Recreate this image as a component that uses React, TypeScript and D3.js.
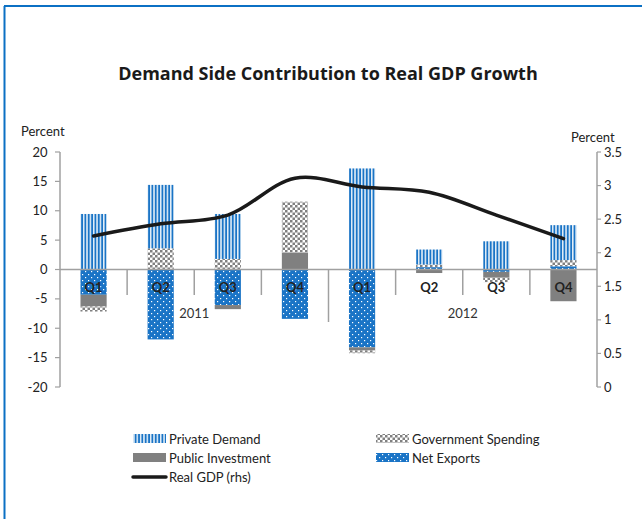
import React from "react";
import * as d3 from "d3";

const quarters = ["Q1", "Q2", "Q3", "Q4", "Q1", "Q2", "Q3", "Q4"];
const years = ["2011", "2012"];
const privateDemand = [9.45, 10.8, 7.65, 0, 17.2, 2.55, 4.8, 5.95];
const govSpending = [-0.85, 3.6, 1.8, 8.65, -0.45, 0.45, -0.75, 1.05];
const publicInvestment = [-2.0, 0, -0.7, 2.9, -0.55, -0.6, -1.0, -5.4];
const netExports = [-4.3, -11.9, -6.05, -8.4, -13.25, 0.4, -0.4, 0.55];
const realGDP = [2.25, 2.43, 2.56, 3.11, 2.98, 2.9, 2.56, 2.21];
const leftTicks = [-20, -15, -10, -5, 0, 5, 10, 15, 20];
const rightTicks = [0, 0.5, 1, 1.5, 2, 2.5, 3, 3.5];

const BLUE = "#1a74c6";
const GRAY = "#808080";
const FONT = "Lato, 'Open Sans', sans-serif";

export default function App() {
  const W = 642, H = 519;
  const x0 = 60, x1 = 597, yTop = 152, yBot = 387;
  const idx = quarters.map((_, i) => i);
  const x = d3.scaleBand<number>().domain(idx).range([x0, x1]).paddingInner(0.61).paddingOuter(0.305);
  const step = x.step();
  const yL = d3.scaleLinear().domain([-20, 20]).range([yBot, yTop]);
  const yR = d3.scaleLinear().domain([0, 3.5]).range([yBot, yTop]);

  const keys = ["ne", "pi", "gs", "pd"];
  const rows = idx.map((i) => ({
    i,
    ne: netExports[i],
    pi: publicInvestment[i],
    gs: govSpending[i],
    pd: privateDemand[i],
  }));
  const stack = d3.stack<any>().keys(keys).offset(d3.stackOffsetDiverging);
  const series = stack(rows);
  const fills: Record<string, string> = {
    ne: "url(#pNE)",
    pi: GRAY,
    gs: "url(#pGS)",
    pd: "url(#pPD)",
  };

  const cx = (i: number) => (x(i) as number) + x.bandwidth() / 2;
  const line = d3
    .line<number>()
    .x((_, i) => cx(i))
    .y((d) => yR(d))
    .curve(d3.curveCatmullRom.alpha(0.5));

  const zeroY = yL(0);
  const axisColor = "#a0a0a0";

  const legend = [
    { label: "Private Demand", key: "pd", x: 133, y: 439 },
    { label: "Government Spending", key: "gs", x: 376, y: 439 },
    { label: "Public Investment", key: "pi", x: 133, y: 458 },
    { label: "Net Exports", key: "ne", x: 376, y: 458 },
  ];

  return (
    <svg width={W} height={H} style={{ position: "absolute", left: 0, top: 0, background: "#fff" }} fontFamily={FONT}>
      <defs>
        <pattern id="pPD" patternUnits="userSpaceOnUse" width={3.35} height={10}>
          <rect width={3.35} height={10} fill="#fff" />
          <rect x={0.6} width={2} height={10} fill={BLUE} />
        </pattern>
        <pattern id="pGS" patternUnits="userSpaceOnUse" width={5} height={5}>
          <rect width={5} height={5} fill="#fff" />
          <rect width={2.5} height={2.5} fill={GRAY} />
          <rect x={2.5} y={2.5} width={2.5} height={2.5} fill={GRAY} />
        </pattern>
        <pattern id="pNE" patternUnits="userSpaceOnUse" width={6} height={6}>
          <rect width={6} height={6} fill={BLUE} />
          <rect x={1} y={1} width={1.2} height={1.2} fill="#fff" />
          <rect x={4} y={4} width={1.2} height={1.2} fill="#fff" />
        </pattern>
      </defs>

      {/* frame */}
      <line x1={4.5} y1={6} x2={4.5} y2={H} stroke="#0b70c4" strokeWidth={2} />
      <line x1={4} y1={6} x2={W} y2={6} stroke="#0b70c4" strokeWidth={2} />

      <text x={328} y={80} textAnchor="middle" fontSize={18} fontWeight="bold" fill="#1a1a1a" fontFamily="'Open Sans', sans-serif">
        Demand Side Contribution to Real GDP Growth
      </text>

      <text x={21} y={136} fontSize={13} fill="#222">Percent</text>
      <text x={571} y={142} fontSize={13} fill="#222">Percent</text>

      {/* left axis */}
      <line x1={x0} y1={yTop} x2={x0} y2={yBot} stroke={axisColor} strokeWidth={1.5} />
      {leftTicks.map((t) => (
        <g key={"l" + t}>
          <line x1={x0 - 5} x2={x0} y1={yL(t)} y2={yL(t)} stroke={axisColor} strokeWidth={1.2} />
          <text x={47.5} y={yL(t) + 4.5} textAnchor="end" fontSize={13} fill="#222">{t}</text>
        </g>
      ))}

      {/* right axis */}
      <line x1={x1} y1={yTop} x2={x1} y2={yBot} stroke={axisColor} strokeWidth={1.5} />
      {rightTicks.map((t) => (
        <g key={"r" + t}>
          <line x1={x1} x2={x1 + 4} y1={yR(t)} y2={yR(t)} stroke={axisColor} strokeWidth={1.2} />
          <text x={604} y={yR(t) + 4.5} fontSize={13} fill="#222">{t}</text>
        </g>
      ))}

      {/* bars */}
      {series.map((s) => (
        <g key={s.key}>
          {s.map((d, j) => {
            const top = yL(Math.max(d[0], d[1]));
            const bot = yL(Math.min(d[0], d[1]));
            if (bot - top < 0.01) return null;
            return (
              <rect key={j} x={x(j)} y={top} width={x.bandwidth()} height={bot - top} fill={fills[s.key as string]} />
            );
          })}
        </g>
      ))}

      {/* category axis */}
      <line x1={x0} x2={x1} y1={zeroY} y2={zeroY} stroke={axisColor} strokeWidth={1.5} />
      {d3.range(1, quarters.length).map((i) => (
        <line key={"t" + i} x1={x0 + i * step} x2={x0 + i * step} y1={zeroY} y2={i === 4 ? 322 : 295} stroke={axisColor} strokeWidth={1.5} />
      ))}
      {quarters.map((q, i) => (
        <text key={"q" + i} x={cx(i)} y={292} textAnchor="middle" fontSize={13} fontWeight="bold" fill="#222">{q}</text>
      ))}
      {years.map((yv, k) => (
        <text key={yv} x={x0 + (k * 4 + 2) * step} y={318} textAnchor="middle" fontSize={13} fill="#333">{yv}</text>
      ))}

      {/* GDP line */}
      <path d={line(realGDP) || ""} fill="none" stroke="#1a1a1a" strokeWidth={3.5} strokeLinecap="round" />

      {/* legend */}
      {legend.map((l) => (
        <g key={l.key}>
          <rect x={l.x} y={l.y - 5} width={33} height={9} fill={fills[l.key]} />
          <text x={l.x + 36} y={l.y + 4.5} fontSize={13} fill="#222">{l.label}</text>
        </g>
      ))}
      <line x1={133} x2={166} y1={477} y2={477} stroke="#1a1a1a" strokeWidth={3.5} strokeLinecap="round" />
      <text x={169} y={482} fontSize={13} fill="#222">Real GDP (rhs)</text>
    </svg>
  );
}
